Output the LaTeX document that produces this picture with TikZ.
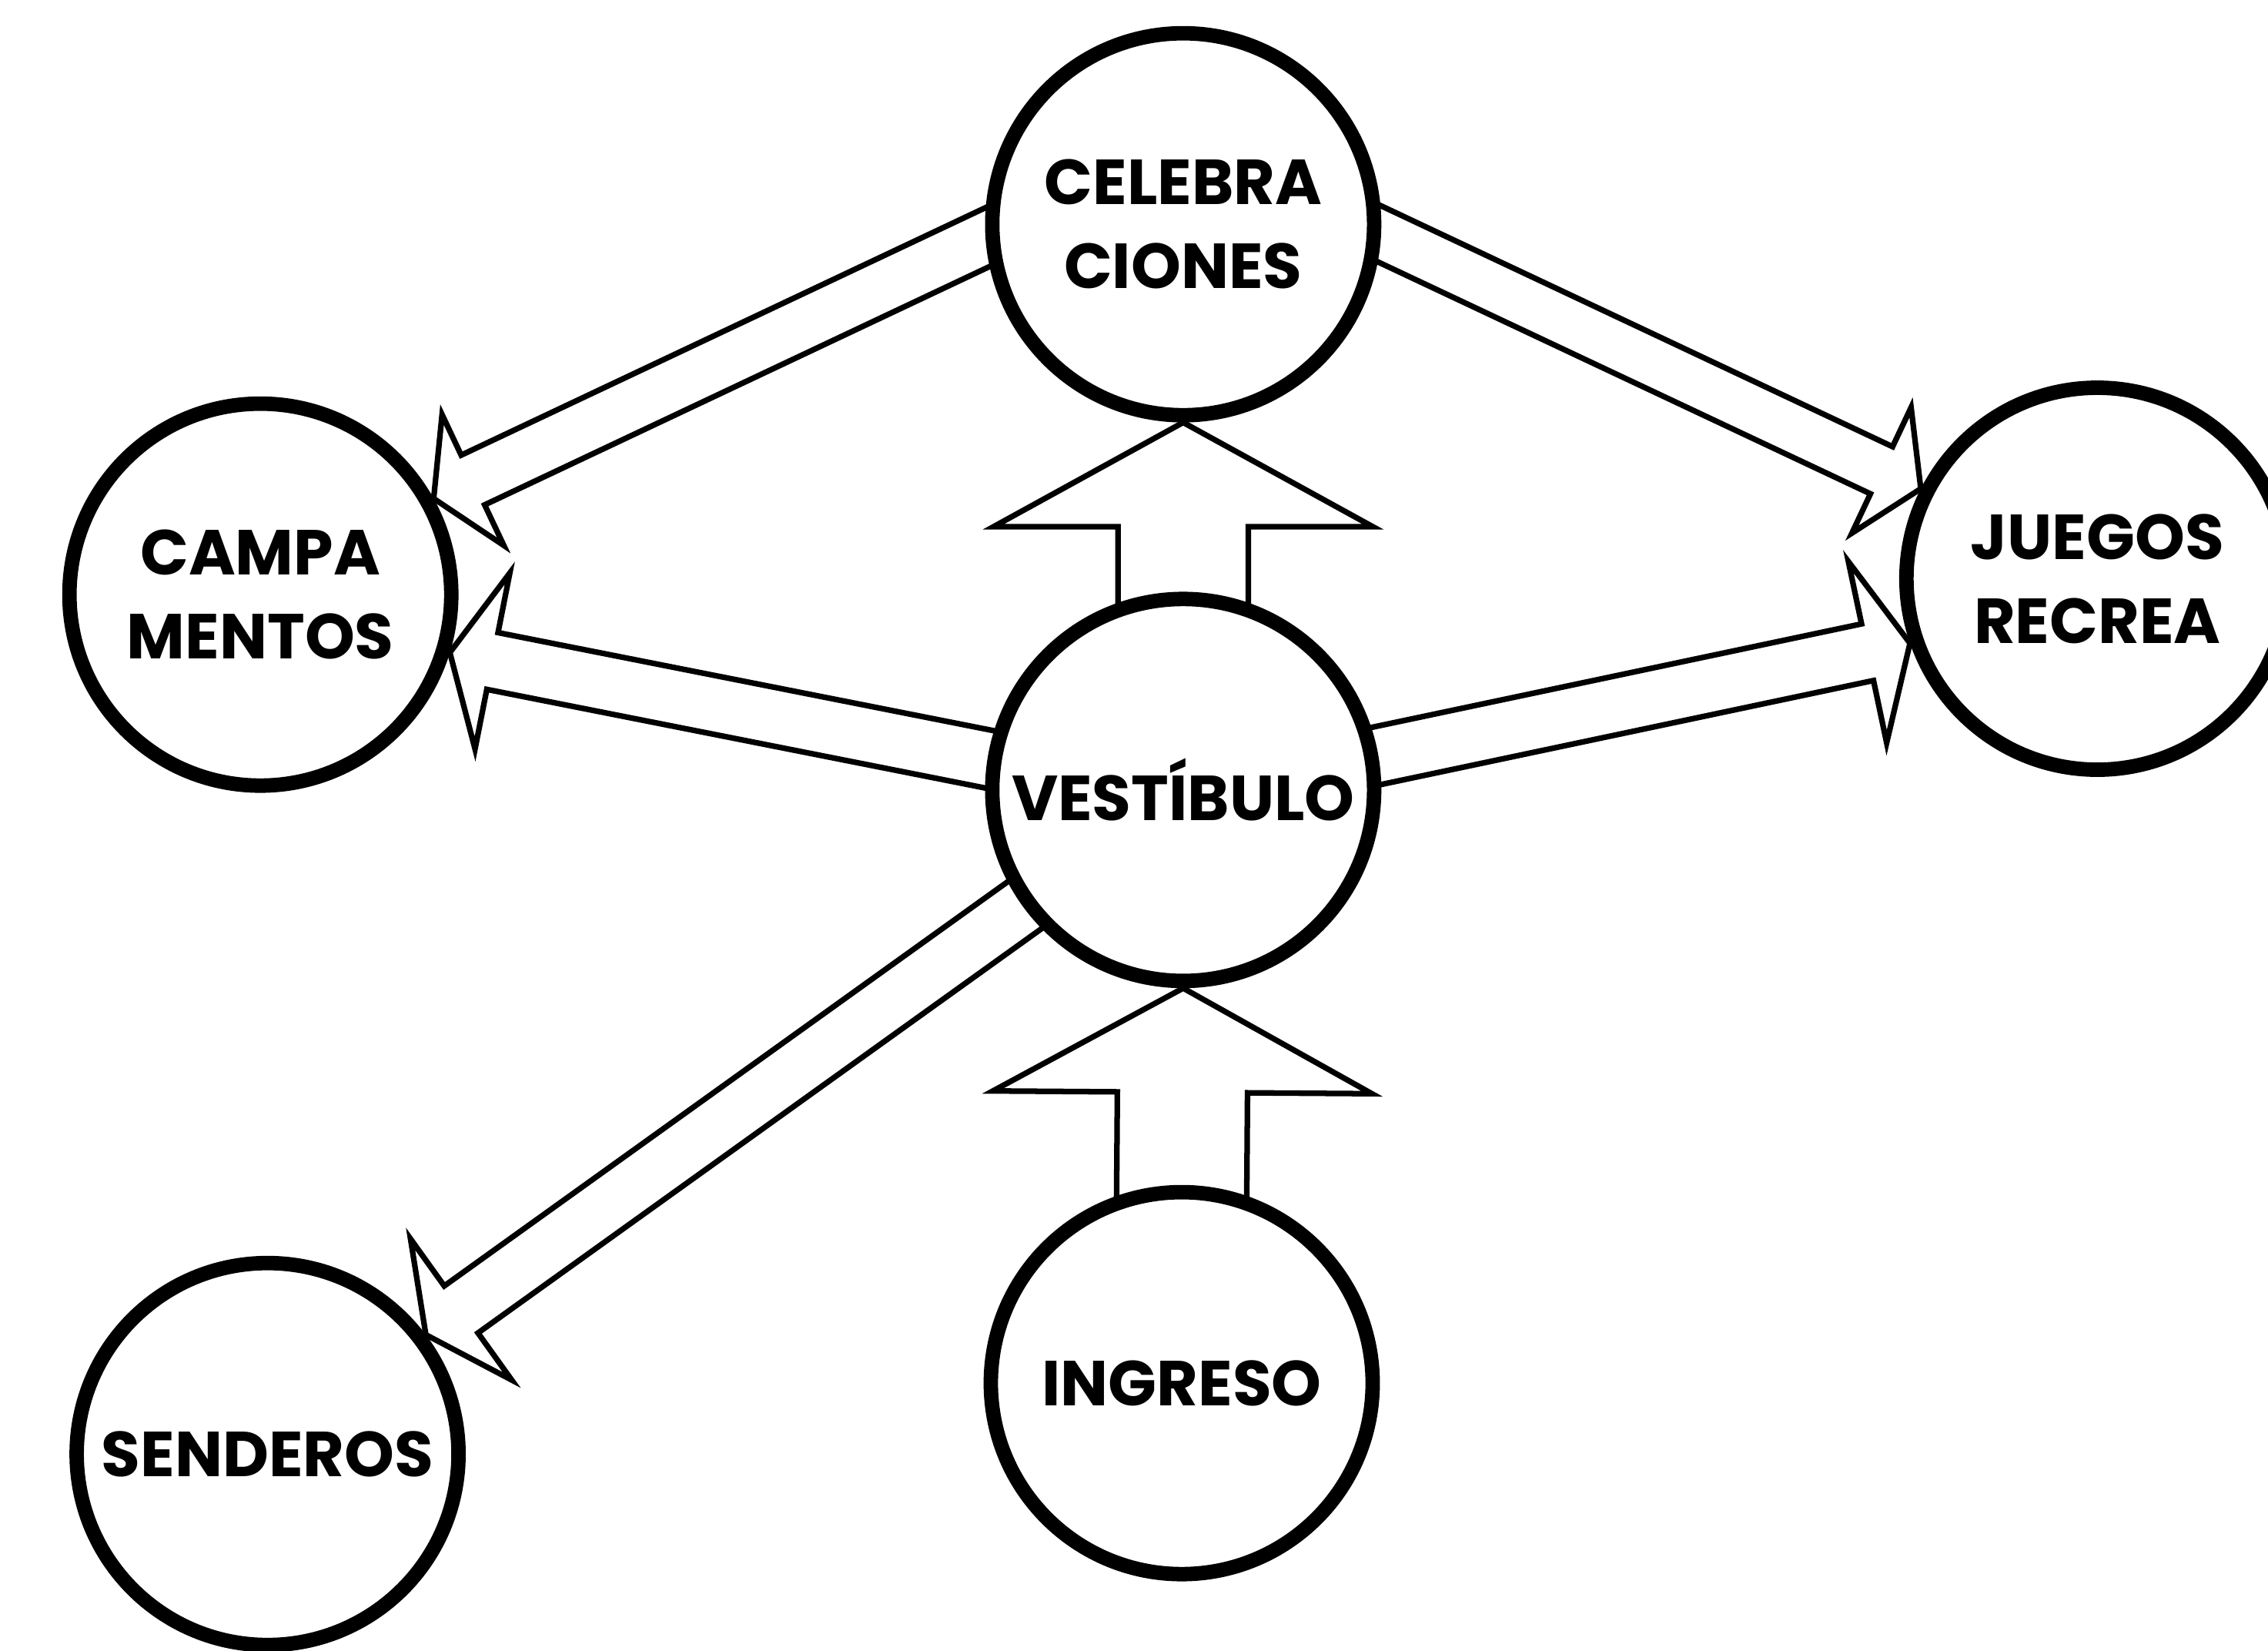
\documentclass[tikz,border=0pt]{standalone}
\usepackage{fontspec}
\setmainfont{Poppins}
\usetikzlibrary{calc, backgrounds}

% hollow block arrow: from, to, half shaft, half head, head length
\newcommand{\flecha}[5]{%
  \coordinate (fa) at ($(#1)!-3mm!(#2)$);
  \coordinate (fh) at ($(#2)!#5!(#1)$);
  \draw[hueco] ($(fa)!#3!90:(#2)$) -- ($(fh)!#3!90:(#2)$)
    -- ($(fh)!#4!90:(#2)$) -- (#2) -- ($(fh)!#4!-90:(#2)$)
    -- ($(fh)!#3!-90:(#2)$) -- ($(fa)!#3!-90:(#2)$);
}

\begin{document}
\begin{tikzpicture}[
    zona/.style={circle, draw, line width=0.1cm, fill=white, minimum size=2.64cm,
                 inner sep=0pt, align=center, font=\bfseries\fontsize{12.5}{16.5}\selectfont},
    hueco/.style={draw, line width=1.1pt, line join=miter}
  ]
  \useasboundingbox (0,0) rectangle (15.68,-11.41);

  % circles
  \node[zona] (cel) at (8.18,-1.55) {CELEBRA\\CIONES};
  \node[zona] (cam) at (1.80,-4.11) {CAMPA\\MENTOS};
  \node[zona] (jue) at (14.50,-4.00) {JUEGOS\\RECREA};
  \node[zona] (ves) at (8.18,-5.46) {VESTÍBULO};
  \node[zona] (sen) at (1.85,-10.05) {SENDEROS};
  \node[zona] (ing) at (8.17,-9.56) {INGRESO};

  % arrows
  \begin{scope}[on background layer]
    \flecha{cel.184}{cam.29}{0.19cm}{0.5cm}{0.3cm}
    \flecha{ves.171}{cam.343}{0.2cm}{0.62cm}{0.3cm}
    \flecha{cel.357}{jue.153}{0.18cm}{0.48cm}{0.3cm}
    \flecha{ves.10}{jue.199}{0.2cm}{0.64cm}{0.3cm}
    \flecha{ves.216}{sen.37}{0.2cm}{0.6cm}{0.3cm}
    \flecha{ves.north}{cel.south}{0.45cm}{1.31cm}{0.72cm}
    \flecha{ing.north}{ves.south}{0.45cm}{1.31cm}{0.72cm}
  \end{scope}
\end{tikzpicture}
\end{document}
